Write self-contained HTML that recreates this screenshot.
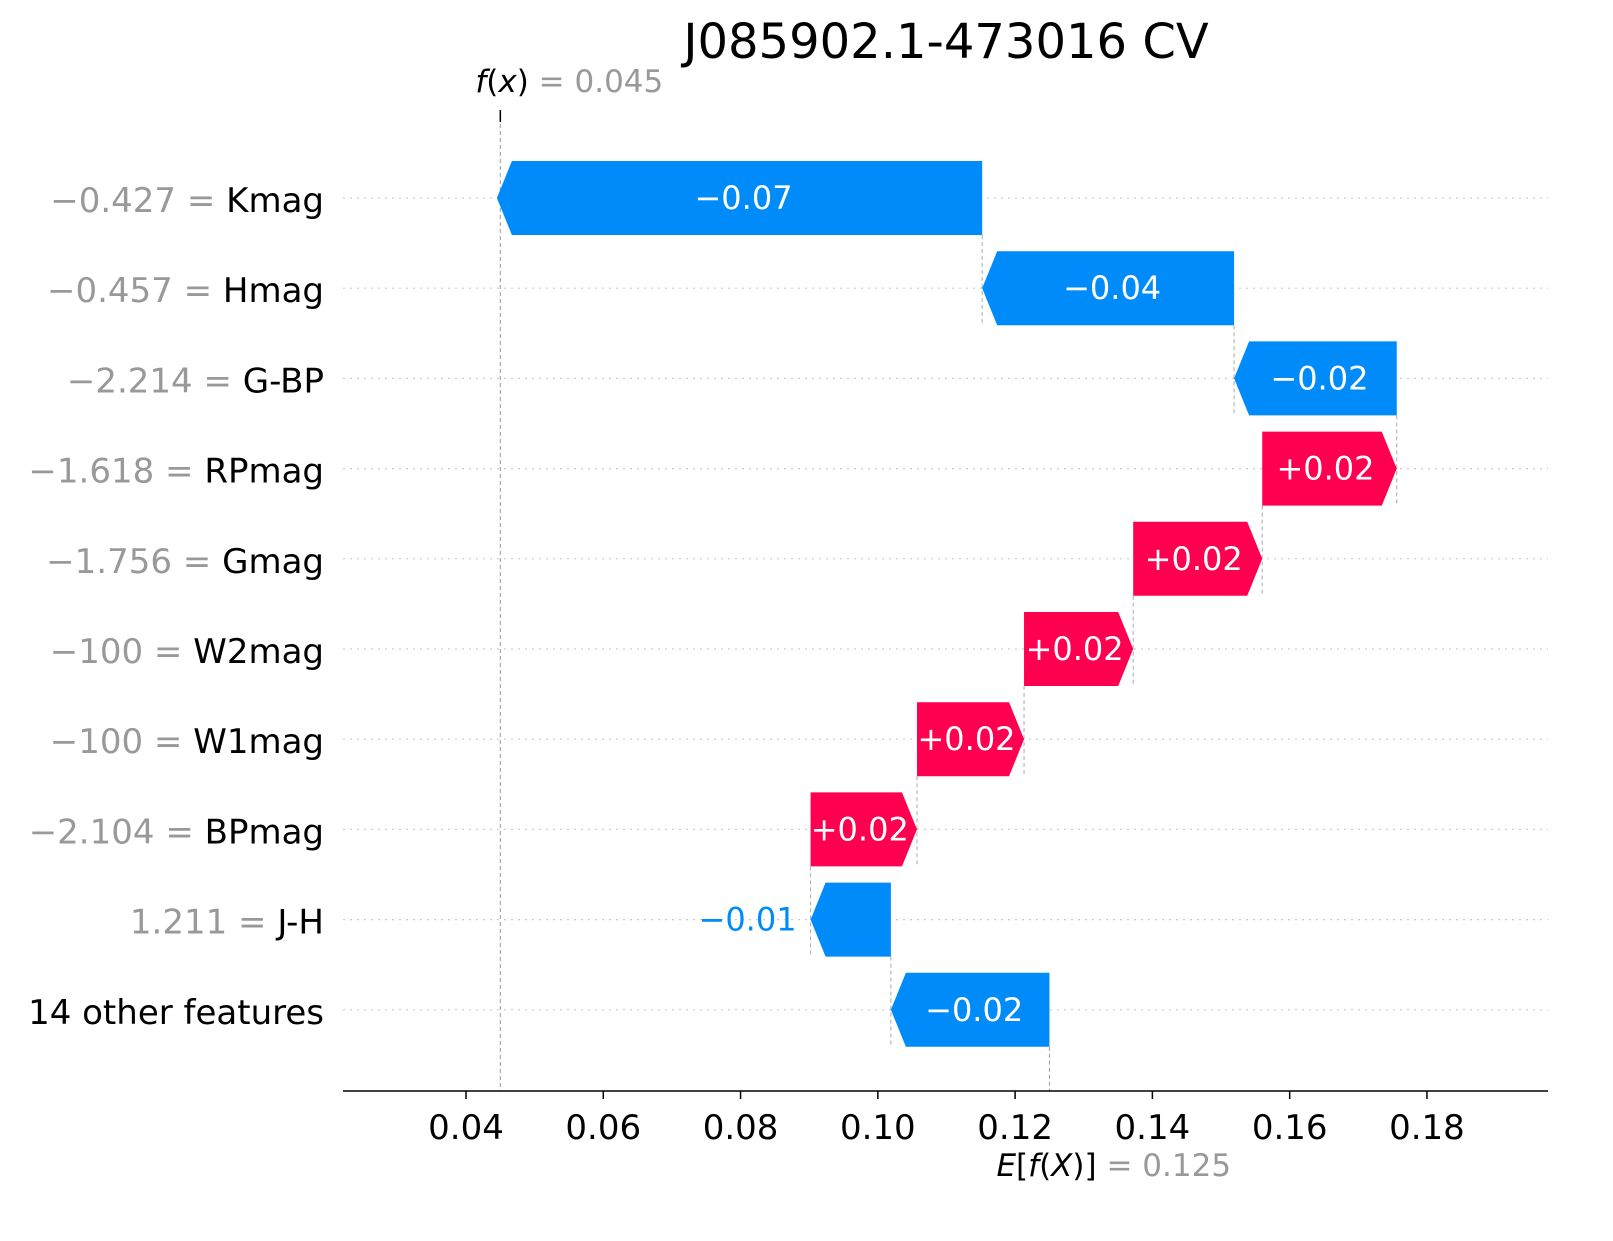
<!DOCTYPE html>
<html><head><meta charset="utf-8"><style>
body{margin:0;background:#fff;}
svg text{font-family:"DejaVu Sans","Liberation Sans",sans-serif;}
</style></head><body>
<svg id="chart" width="1613" height="1236" xmlns="http://www.w3.org/2000/svg">
<text x="946" y="58" font-size="48" text-anchor="middle" fill="#000">J085902.1-473016 CV</text>
<g id="grid"></g><g id="bars"></g><g id="axis"></g><g id="labels"></g>
</svg>
<script>
const featureNames=["Kmag","Hmag","G-BP","RPmag","Gmag","W2mag","W1mag","BPmag","J-H","14 other features"];
const featureValues=["\u22120.427","\u22120.457","\u22122.214","\u22121.618","\u22121.756","\u2212100","\u2212100","\u22122.104","1.211",""];
const shapValues=[-0.0707,-0.0367,-0.0237,0.0196,0.0188,0.0159,0.0156,0.0155,-0.0117,-0.0231];
const baseValue=0.125;
const fxValue=0.045;
const ticks=[0.04,0.06,0.08,0.10,0.12,0.14,0.16,0.18];
const tickLabels=["0.04","0.06","0.08","0.10","0.12","0.14","0.16","0.18"];

const NS="http://www.w3.org/2000/svg";
const X=v=>466+(v-0.04)*6864;
const Y=i=>198+i*90.2;
const H=74;
function mk(tag,attrs,parent,text){const e=document.createElementNS(NS,tag);for(const k in attrs)e.setAttribute(k,attrs[k]);if(text!==undefined)e.textContent=text;document.getElementById(parent).appendChild(e);return e;}
const n=featureNames.length;
const starts=[],ends=[];let cum=baseValue;
for(let i=n-1;i>=0;i--){starts[i]=cum;cum+=shapValues[i];ends[i]=cum;}
for(let i=0;i<n;i++){
 const g=mk('line',{x1:343,x2:1548,y1:Y(i),y2:Y(i),stroke:'#ccc','stroke-width':1.2,'stroke-dasharray':'2,5'},'grid');
 
 
}
let l=mk('line',{x1:X(fxValue),x2:X(fxValue),y1:110,y2:1091,stroke:'#999','stroke-width':1,'stroke-dasharray':'4,3'},'grid');


l=mk('line',{x1:X(fxValue),x2:X(fxValue),y1:110,y2:122,stroke:'#000','stroke-width':1.5},'grid');


l=mk('line',{x1:X(baseValue),x2:X(baseValue),y1:Y(n-1)+H/2,y2:1091,stroke:'#999','stroke-width':1,'stroke-dasharray':'4,3'},'grid');


for(let i=0;i<n-1;i++){
 const c=mk('line',{x1:X(ends[i+1]),x2:X(ends[i+1]),y1:Y(i)+H/2,y2:Y(i+1)+H/2,stroke:'#aaa','stroke-width':1,'stroke-dasharray':'4,3'},'grid');
 
 
}
for(let i=0;i<n;i++){
 const x0=X(starts[i]),x1=X(ends[i]),y=Y(i);
 const pos=shapValues[i]>0;const w=Math.abs(x1-x0);const hl=Math.min(15,w);
 let pts;
 if(pos) pts=[[x0,y-H/2],[x1-hl,y-H/2],[x1,y],[x1-hl,y+H/2],[x0,y+H/2]];
 else pts=[[x0,y-H/2],[x1+hl,y-H/2],[x1,y],[x1+hl,y+H/2],[x0,y+H/2]];
 const color=pos?'#ff0051':'#008bfb';
 const p=mk('polygon',{points:pts.map(q=>q.join(',')).join(' '),fill:color},'bars');
 
 
 const txt=(pos?'+':'\u2212')+Math.abs(shapValues[i]).toFixed(2);
 let t;
 if(w>90){t=mk('text',{x:(x0+x1)/2+(pos?-4:4),y:y+11,'font-size':32,fill:'#fff','text-anchor':'middle'},'labels',txt);}
 else{const lx=Math.min(x0,x1)-14;t=mk('text',{x:lx,y:y+11,'font-size':32,fill:color,'text-anchor':'end'},'labels',txt);}
 
 
 const fl=mk('text',{x:324,y:y+14,'font-size':34,'text-anchor':'end'},'labels');
 
 
 if(featureValues[i]){const s=document.createElementNS(NS,'tspan');s.setAttribute('fill','#999');s.textContent=featureValues[i]+' = ';fl.appendChild(s);}
 const s2=document.createElementNS(NS,'tspan');s2.setAttribute('fill','#000');s2.textContent=featureNames[i];fl.appendChild(s2);
}
l=mk('line',{x1:343,x2:1548,y1:1091,y2:1091,stroke:'#000','stroke-width':1.6},'axis');


ticks.forEach((v,k)=>{
 const tk=mk('line',{x1:X(v),x2:X(v),y1:1091,y2:1099,stroke:'#000','stroke-width':1.5},'axis');
 
 
 const tl=mk('text',{x:X(v),y:1139,'font-size':34,'text-anchor':'middle',fill:'#000'},'axis',tickLabels[k]);
 
 
});
let fx=mk('text',{x:X(fxValue)-25,y:92,'font-size':31},'labels');


fx.innerHTML='<tspan font-style="italic">f</tspan>(<tspan font-style="italic">x</tspan>)<tspan fill="#999"> = '+fxValue.toFixed(3)+'</tspan>';
let ef=mk('text',{x:X(baseValue)-53,y:1176,'font-size':31},'labels');


ef.innerHTML='<tspan font-style="italic">E</tspan>[<tspan font-style="italic">f</tspan>(<tspan font-style="italic">X</tspan>)]<tspan fill="#999"> = '+baseValue.toFixed(3)+'</tspan>';
</script>
</body></html>
